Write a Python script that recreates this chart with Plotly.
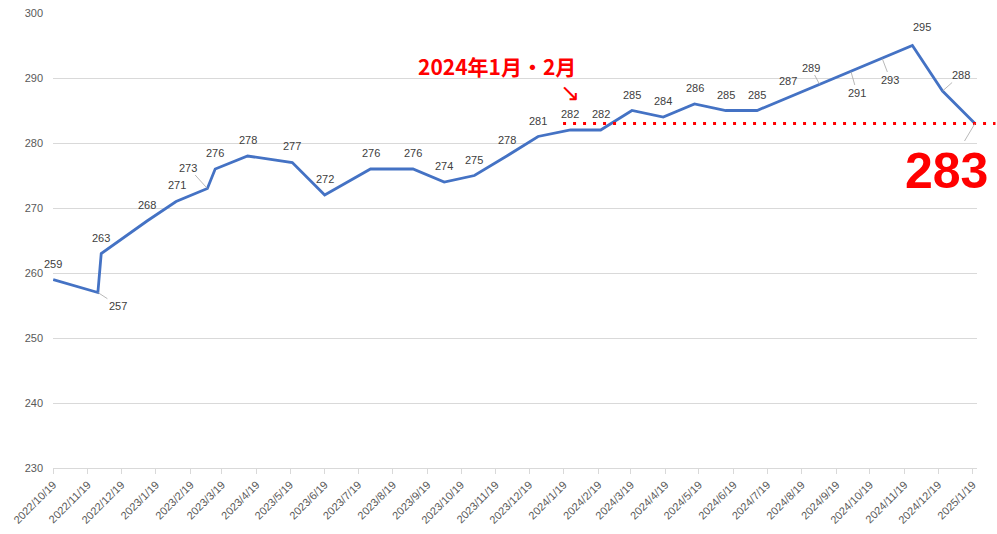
import plotly.graph_objects as go
import pandas as pd

dates = ["2022-10-19", "2022-11-28", "2022-12-01", "2023-01-11", "2023-02-06",
         "2023-03-06", "2023-03-13", "2023-04-11", "2023-05-21", "2023-06-19",
         "2023-07-30", "2023-09-06", "2023-10-04", "2023-10-31", "2023-11-29",
         "2023-12-27", "2024-01-25", "2024-02-21", "2024-03-20", "2024-04-17",
         "2024-05-15", "2024-06-12", "2024-07-10", "2024-08-07", "2024-09-04",
         "2024-10-02", "2024-10-30", "2024-11-26", "2024-12-23", "2025-01-21"]
values = [259, 257, 263, 268, 271, 273, 276, 278, 277, 272, 276, 276, 274, 275, 278,
          281, 282, 282, 285, 284, 286, 285, 285, 287, 289, 291, 293, 295, 288, 283]

# label offsets (px) and whether a leader line is drawn
label_dx = [0, 20, 0, 0, 1, -19, 0, 0, 0, 0, 0, 0, 0, 0, 0,
            0, 0, 0, 0, 0, 0, 0, 0, 0, -9, 6, 8, 10, 18, -28]
label_dy = [-16, 13, -16, -16, -17, -21, -16, -16, -17, -16, -16, -16, -16, -16, -16,
            -16, -16, -16, -16, -16, -16, -16, -16, -17, -17, 21, 21, -19, -16, 47]
leader = [False, True, False, False, False, True, False, False, False, False, False, False,
          False, False, False, False, False, False, False, False, False, False, False, False,
          True, True, True, False, True, True]

tick_dates = pd.date_range("2022-10-01", "2025-01-01", freq="MS") + pd.Timedelta(days=18)
tick_text = [f"{d.year}/{d.month}/{d.day}" for d in tick_dates]

ref_value = 283
note_text = "2024年1月・2月"

fig = go.Figure()
fig.add_trace(go.Scatter(x=dates, y=values, mode="lines",
                         line=dict(color="#4472C4", width=2.8), hoverinfo="skip"))

annotations = []
for i, (d, v) in enumerate(zip(dates, values)):
    last = i == len(dates) - 1
    font = dict(family="Liberation Sans, Arial", size=11, color="#404040")
    if last:
        font = dict(family="Liberation Sans, Arial", size=50, color="#FF0000", weight="bold")
    if leader[i]:
        annotations.append(dict(x=d, y=v, xref="x", yref="y", text=str(v), showarrow=True,
                                arrowhead=0, arrowwidth=0.8, arrowcolor="#A6A6A6",
                                ax=label_dx[i], ay=label_dy[i], axref="pixel", ayref="pixel",
                                standoff=0, font=font))
    else:
        annotations.append(dict(x=d, y=v, xref="x", yref="y", text=str(v), showarrow=False,
                                xshift=label_dx[i], yshift=-label_dy[i], font=font))

annotations.append(dict(x=0.481, y=0.884, xref="paper", yref="paper", text=note_text,
                        showarrow=False, xanchor="center", yanchor="middle",
                        font=dict(family="Noto Sans CJK JP", size=21, color="#FF0000", weight="bold")))
annotations.append(dict(x=0.560, y=0.824, xref="paper", yref="paper", text="↘",
                        showarrow=False, xanchor="center", yanchor="middle",
                        width=18, height=18,
                        font=dict(family="DejaVu Sans", size=24, color="#FF0000")))

fig.update_layout(
    width=997, height=534,
    margin=dict(l=53, r=20, t=13, b=66),
    paper_bgcolor="white", plot_bgcolor="white",
    showlegend=False,
    annotations=annotations,
    shapes=[dict(type="line", xref="paper", yref="y", x0=0.552, x1=1.02,
                 y0=ref_value, y1=ref_value,
                 line=dict(color="#FF0000", width=3, dash="3px,7px"))],
    xaxis=dict(type="date", range=["2022-10-18 20:00", "2025-01-22 20:00"],
               tickvals=list(tick_dates), ticktext=tick_text, tickangle=-45,
               showgrid=False, showline=True, linecolor="#D9D9D9", linewidth=1,
               ticks="outside", ticklen=5, tickcolor="#D9D9D9", automargin=False,
               tickfont=dict(family="Liberation Sans, Arial", size=11, color="#595959"),
               zeroline=False),
    yaxis=dict(range=[230, 300], dtick=10, showgrid=True, gridcolor="#D9D9D9",
               gridwidth=1, showline=False, zeroline=False, ticks="", automargin=False,
               ticklabelstandoff=9,
               tickfont=dict(family="Liberation Sans, Arial", size=11, color="#595959")),
)

fig.write_html("out.html")
